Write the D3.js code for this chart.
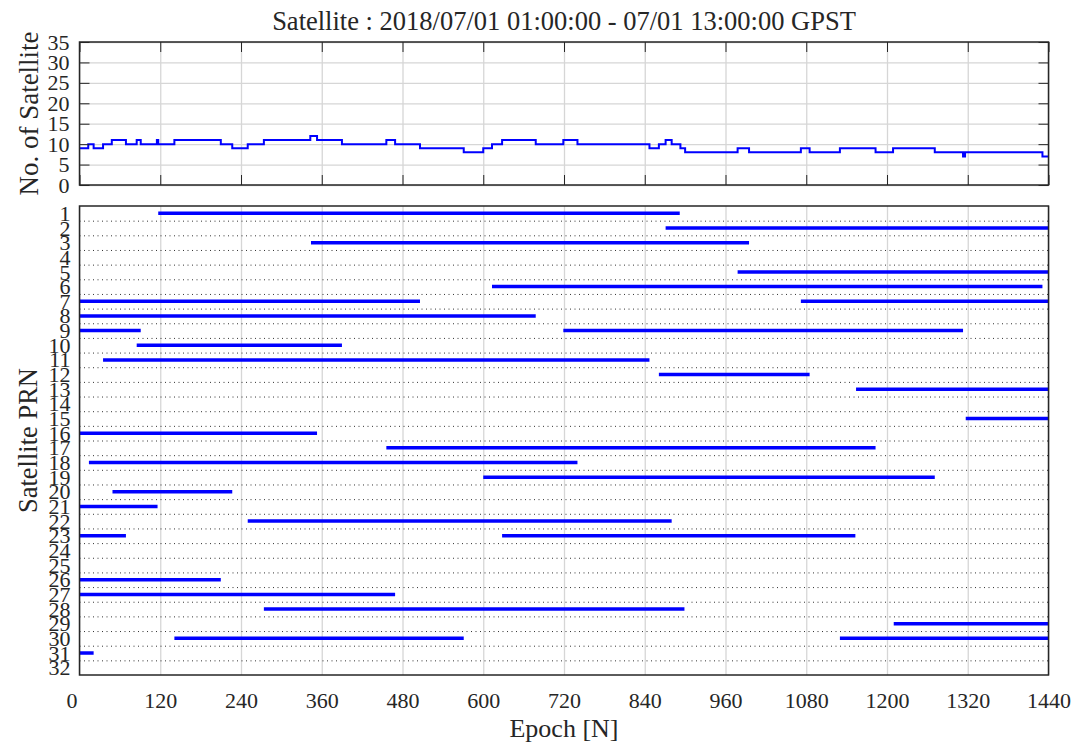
<!DOCTYPE html>
<html>
<head>
<meta charset="utf-8">
<script src="https://cdn.jsdelivr.net/npm/d3@7"></script>
<style>
  html, body { margin: 0; padding: 0; background: #fff; }
  svg { display: block; }
</style>
</head>
<body>
<svg id="chart" width="1077" height="747"></svg>
<script>
// ---------- data ----------
const titleText = "Satellite : 2018/07/01 01:00:00 - 07/01 13:00:00 GPST";
const xTicks = [0, 120, 240, 360, 480, 600, 720, 840, 960, 1080, 1200, 1320, 1440];
const countTicks = [0, 5, 10, 15, 20, 25, 30, 35];
const prnTicks = d3.range(1, 33);

// number of satellites: step changes (epoch where the new value starts)
const stepEpoch = [0, 13, 21, 35, 48, 69, 85, 91, 115, 117, 141, 210, 227, 250, 274, 343, 353, 390, 456, 469, 506, 571, 600, 613, 628, 678, 719, 740, 847, 861, 871, 880, 893, 900, 978, 995, 1072, 1085, 1130, 1183, 1209, 1271, 1313, 1316, 1431, 1440];
const stepCount = [9, 10, 9, 10, 11, 10, 11, 10, 11, 10, 11, 10, 9, 10, 11, 12, 11, 10, 11, 10, 9, 8, 9, 10, 11, 10, 11, 10, 9, 10, 11, 10, 9, 8, 9, 8, 9, 8, 9, 8, 9, 8, 7, 8, 7, 7];

// visibility arcs: PRN, start epoch, end epoch
const arcPrn   = [1, 2, 3, 5, 6, 7, 7, 8, 9, 9, 10, 11, 12, 13, 15, 16, 17, 18, 19, 20, 21, 22, 23, 23, 26, 27, 28, 29, 30, 30, 31];
const arcStart = [117, 871, 344, 978, 613, 0, 1072, 0, 0, 719, 85, 35, 861, 1154, 1317, 0, 456, 14, 600, 49, 0, 250, 0, 628, 0, 0, 274, 1210, 141, 1130, 0];
const arcEnd   = [892, 1440, 995, 1440, 1431, 506, 1440, 678, 91, 1313, 390, 847, 1085, 1440, 1440, 353, 1183, 740, 1271, 227, 116, 880, 69, 1153, 210, 469, 899, 1440, 571, 1440, 21];

// ---------- layout ----------
const FONT = '"Liberation Serif", Tinos, "Times New Roman", Times, serif';
const svg = d3.select("#chart");
svg.append("rect").attr("width", 1077).attr("height", 747).attr("fill", "#fff");

const L = 79.5, R = 1048.5;
const topT = 42, topB = 185;
const botT = 206, botB = 675;

const x = d3.scaleLinear().domain([0, 1440]).range([L, R]);
const yCount = d3.scaleLinear().domain([0, 35]).range([topB, topT]);
const yPrn = d3.scaleLinear().domain([0.5, 32.5]).range([botT, botB]);

const gridColor = "#d6d6d6";
const axisColor = "#262626";

function styleAxis(g, showText, fontSize) {
  g.select(".domain").remove();
  g.selectAll(".tick line").attr("stroke", axisColor).attr("stroke-width", 1);
  g.selectAll(".tick text")
    .style("font-family", FONT)
    .style("font-size", fontSize + "px")
    .style("fill", axisColor);
  if (!showText) g.selectAll(".tick text").remove();
}

// ===== TOP PANEL =====
const topG = svg.append("g");
topG.append("g")
  .attr("transform", `translate(0,${topB})`)
  .call(d3.axisBottom(x).tickValues(xTicks).tickSize(-(topB - topT)).tickFormat(""))
  .call(g => { g.select(".domain").remove(); g.selectAll("line").attr("stroke", gridColor).attr("stroke-width", 1.3); });
topG.append("g")
  .attr("transform", `translate(${L},0)`)
  .call(d3.axisLeft(yCount).tickValues(countTicks).tickSize(-(R - L)).tickFormat(""))
  .call(g => { g.select(".domain").remove(); g.selectAll("line").attr("stroke", gridColor).attr("stroke-width", 1.3); });

const lineData = stepEpoch.map((e, i) => [e, stepCount[i]]);
topG.append("path")
  .datum(lineData)
  .attr("fill", "none")
  .attr("stroke", "#0000ff")
  .attr("stroke-width", 2)
  .attr("d", d3.line().x(d => x(d[0])).y(d => yCount(d[1])).curve(d3.curveStepAfter));

topG.append("g").attr("transform", `translate(0,${topB})`)
  .call(d3.axisBottom(x).tickValues(xTicks).tickSize(-10).tickFormat(""))
  .call(g => styleAxis(g, false, 22));
topG.append("g").attr("transform", `translate(0,${topT})`)
  .call(d3.axisTop(x).tickValues(xTicks).tickSize(-10).tickFormat(""))
  .call(g => styleAxis(g, false, 22));
topG.append("g").attr("transform", `translate(${L},0)`)
  .call(d3.axisLeft(yCount).tickValues(countTicks).tickSize(-10).tickPadding(10).tickFormat(d3.format("d")))
  .call(g => styleAxis(g, true, 22));
topG.append("g").attr("transform", `translate(${R},0)`)
  .call(d3.axisRight(yCount).tickValues(countTicks).tickSize(-10).tickFormat(""))
  .call(g => styleAxis(g, false, 22));

topG.append("rect")
  .attr("x", L).attr("y", topT).attr("width", R - L).attr("height", topB - topT)
  .attr("fill", "none").attr("stroke", axisColor).attr("stroke-width", 1.5);

// ===== BOTTOM PANEL =====
const botG = svg.append("g");
botG.append("g")
  .attr("transform", `translate(0,${botB})`)
  .call(d3.axisBottom(x).tickValues(xTicks).tickSize(-(botB - botT)).tickFormat(""))
  .call(g => { g.select(".domain").remove(); g.selectAll("line").attr("stroke", gridColor).attr("stroke-width", 1.3); });
const sepVals = d3.range(1.5, 32, 1);
botG.append("g")
  .attr("transform", `translate(${L},0)`)
  .call(d3.axisLeft(yPrn).tickValues(sepVals).tickSize(-(R - L)).tickFormat(""))
  .call(g => { g.select(".domain").remove(); g.selectAll("line").attr("stroke", "#333").attr("stroke-width", 1).attr("stroke-dasharray", "1,3.5"); });

botG.selectAll("line.arc")
  .data(arcPrn.map((p, i) => ({ prn: p, s: arcStart[i], e: arcEnd[i] })))
  .enter().append("line")
  .attr("class", "arc")
  .attr("x1", d => x(d.s)).attr("x2", d => x(d.e))
  .attr("y1", d => yPrn(d.prn)).attr("y2", d => yPrn(d.prn))
  .attr("stroke", "#0000ff").attr("stroke-width", 3.5);

botG.append("g").attr("transform", `translate(0,${botB})`)
  .call(d3.axisBottom(x).tickValues(xTicks).tickSize(0).tickPadding(17).tickFormat(d3.format("d")))
  .call(g => styleAxis(g, true, 22))
  .call(g => g.selectAll(".tick text").filter(d => d === 0).attr("dx", -8));
botG.append("g").attr("transform", `translate(${L},0)`)
  .call(d3.axisLeft(yPrn).tickValues(prnTicks).tickSize(0).tickPadding(9).tickFormat(d3.format("d")))
  .call(g => styleAxis(g, true, 22));

botG.append("rect")
  .attr("x", L).attr("y", botT).attr("width", R - L).attr("height", botB - botT)
  .attr("fill", "none").attr("stroke", axisColor).attr("stroke-width", 1.5);

// ===== TEXTS =====
function label(sel, size) {
  return sel.style("font-family", FONT).style("font-size", size + "px").style("fill", axisColor)
    .attr("text-anchor", "middle");
}
label(svg.append("text").attr("x", (L + R) / 2).attr("y", 30), 26.5).text(titleText);
label(svg.append("text").attr("transform", `translate(38,${(topT + topB) / 2}) rotate(-90)`), 27).text("No. of Satellite");
label(svg.append("text").attr("transform", `translate(36.5,${(botT + botB) / 2}) rotate(-90)`), 26.5).text("Satellite PRN");
label(svg.append("text").attr("x", (L + R) / 2).attr("y", 737), 26).text("Epoch [N]");
</script>
</body>
</html>
